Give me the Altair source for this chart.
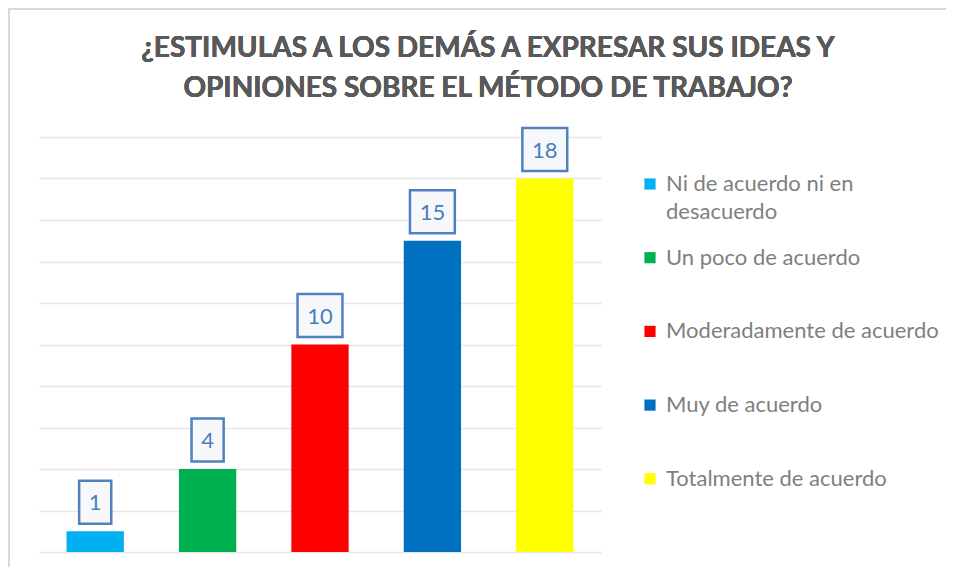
import altair as alt
import pandas as pd

categories = ["Ni de acuerdo ni en desacuerdo", "Un poco de acuerdo",
              "Moderadamente de acuerdo", "Muy de acuerdo", "Totalmente de acuerdo"]
values = [1, 4, 10, 15, 18]
colors = ["#00b0f0", "#00b050", "#ff0000", "#0070c0", "#ffff00"]
title_lines = ["¿ESTIMULAS A LOS DEMÁS A EXPRESAR SUS IDEAS Y",
               "OPINIONES SOBRE EL MÉTODO DE TRABAJO?"]

df = pd.DataFrame({"cat": categories, "value": values})

FONT = "Lato"
W, H = 562, 415

x = alt.X("cat:N", sort=categories, axis=None,
          scale=alt.Scale(paddingInner=0.49, paddingOuter=0.245))
y = alt.Y("value:Q", scale=alt.Scale(domain=[0, 20], nice=False),
          axis=alt.Axis(values=list(range(0, 21, 2)), labels=False, ticks=False,
                        domain=False, title=None, grid=True,
                        gridColor="#e6e6e6", gridWidth=1.3))

label_expr = ("datum.label == 'Ni de acuerdo ni en desacuerdo' ? "
              "['Ni de acuerdo ni en', 'desacuerdo'] : [datum.label, ' ']")

bars = alt.Chart(df).mark_bar().encode(
    x=x, y=y,
    color=alt.Color("cat:N", sort=categories,
                    scale=alt.Scale(domain=categories, range=colors),
                    legend=alt.Legend(
                        title=None, orient="none", legendX=600, legendY=36,
                        symbolType="square", symbolSize=125, symbolStrokeWidth=0,
                        labelFont=FONT, labelFontSize=22, labelColor="#7f7f7f",
                        labelOffset=5, rowPadding=23.7, labelLimit=400,
                        labelExpr=label_expr,
                    )),
)

r = 22
p2 = "M-1.02,-0.98H1.02V0.98H-1.02Z"
p1 = "M-0.73,-0.98H0.73V0.98H-0.73Z"

boxes = alt.Chart(df).mark_point(
    filled=True, fill="#f6f8fc", stroke="#4f81bd", strokeWidth=2.5,
    size=(2 * r) ** 2, yOffset=-29, opacity=1, fillOpacity=1
).encode(
    x=x, y=y,
    shape=alt.condition("datum.value < 10", alt.value(p1), alt.value(p2)),
)

labels = alt.Chart(df).mark_text(
    dy=-28, font=FONT, fontSize=22, color="#4a7ebb", baseline="middle"
).encode(x=x, y=y, text="value:Q")

title1 = alt.Chart(df).mark_text(
    font=FONT, fontSize=28, fontWeight="bold", color="#595959",
    align="center", baseline="alphabetic"
).encode(x=alt.value(449), y=alt.value(-80), text=alt.value(title_lines[0]))
title2 = alt.Chart(df).mark_text(
    font=FONT, fontSize=28, fontWeight="bold", color="#595959",
    align="center", baseline="alphabetic"
).encode(x=alt.value(449), y=alt.value(-40), text=alt.value(title_lines[1]))

border_left = alt.Chart(df).mark_rule(color="#d9d9d9", strokeWidth=2).encode(
    x=alt.value(-30), y=alt.value(-129), y2=alt.value(H + 20))
border_top = alt.Chart(df).mark_rule(color="#d9d9d9", strokeWidth=2).encode(
    x=alt.value(-30), x2=alt.value(W + 345), y=alt.value(-128))

chart = alt.layer(border_left, border_top, bars, boxes, labels, title1, title2).properties(
    width=W, height=H,
    autosize=alt.AutoSizeParams(type="none"),
    padding={"left": 31, "top": 129, "right": 345, "bottom": 15},
).configure(
    style={"guide-label": {"lineHeight": 28}},
    view=alt.ViewConfig(stroke=None),
)

chart.save("out.html", embed_options={"renderer": "svg", "actions": False})
